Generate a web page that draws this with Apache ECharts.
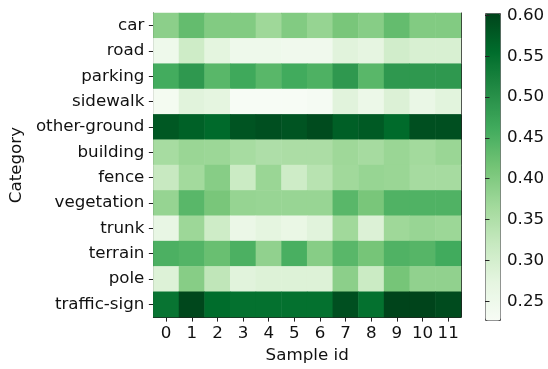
<!DOCTYPE html>
<html>
<head>
<meta charset="utf-8">
<script src="https://cdn.jsdelivr.net/npm/echarts@6/dist/echarts.min.js"></script>
<style>
  html, body { margin: 0; padding: 0; background: #fff; }
  #chart { width: 548px; height: 369px; }
</style>
</head>
<body>
<div id="chart"></div>
<script>
// Per-category scores for each sample
const categories = ['car', 'road', 'parking', 'sidewalk', 'other-ground', 'building',
  'fence', 'vegetation', 'trunk', 'terrain', 'pole', 'traffic-sign'];
const sampleIds = ['0', '1', '2', '3', '4', '5', '6', '7', '8', '9', '10', '11'];

const car          = [0.390, 0.430, 0.400, 0.400, 0.370, 0.400, 0.380, 0.410, 0.395, 0.430, 0.400, 0.400];
const road         = [0.250, 0.310, 0.275, 0.250, 0.250, 0.245, 0.245, 0.280, 0.272, 0.305, 0.295, 0.295];
const parking      = [0.460, 0.490, 0.440, 0.465, 0.440, 0.462, 0.450, 0.490, 0.440, 0.490, 0.490, 0.490];
const sidewalk     = [0.235, 0.280, 0.274, 0.228, 0.228, 0.228, 0.232, 0.280, 0.256, 0.288, 0.260, 0.278];
const otherGround  = [0.580, 0.570, 0.560, 0.585, 0.590, 0.585, 0.595, 0.572, 0.578, 0.558, 0.590, 0.590];
const building     = [0.360, 0.375, 0.373, 0.360, 0.352, 0.355, 0.355, 0.370, 0.362, 0.375, 0.366, 0.375];
const fence        = [0.320, 0.366, 0.395, 0.315, 0.375, 0.310, 0.340, 0.368, 0.378, 0.375, 0.362, 0.362];
const vegetation   = [0.380, 0.440, 0.410, 0.380, 0.377, 0.377, 0.377, 0.440, 0.410, 0.448, 0.448, 0.448];
const trunk        = [0.265, 0.372, 0.310, 0.258, 0.274, 0.262, 0.280, 0.368, 0.288, 0.370, 0.377, 0.373];
const terrain      = [0.452, 0.445, 0.425, 0.452, 0.385, 0.455, 0.395, 0.440, 0.413, 0.448, 0.443, 0.462];
const pole         = [0.287, 0.395, 0.330, 0.280, 0.287, 0.287, 0.287, 0.390, 0.315, 0.413, 0.385, 0.385];
const trafficSign  = [0.545, 0.600, 0.556, 0.550, 0.550, 0.550, 0.550, 0.590, 0.550, 0.603, 0.603, 0.595];

const rows = [car, road, parking, sidewalk, otherGround, building,
  fence, vegetation, trunk, terrain, pole, trafficSign];

const colorTicks = [0.25, 0.30, 0.35, 0.40, 0.45, 0.50, 0.55, 0.60];
const scaleMin = 0.227;
const scaleMax = 0.603;

// matplotlib "Greens" colormap stops
const greens = ['#f7fcf5', '#e5f5e0', '#c7e9c0', '#a1d99b', '#74c476',
  '#41ab5d', '#238b45', '#006d2c', '#00441b'];

const cells = [];
rows.forEach((vals, r) => {
  vals.forEach((v, c) => cells.push([c, r, v]));
});

const font = 'DejaVu Sans';
const fs = 16.7;
const ink = '#111';
const frame = { show: true, lineStyle: { color: '#222', width: 1 } };

const chart = echarts.init(document.getElementById('chart'), null, { renderer: 'canvas' });

chart.setOption({
  animation: false,
  backgroundColor: '#fff',
  grid: [
    { left: 153, top: 13, width: 308, height: 307 },
    { left: 485, top: 13, width: 15, height: 307 }
  ],
  xAxis: [
    {
      gridIndex: 0, type: 'category', data: sampleIds, position: 'bottom',
      axisLine: frame,
      axisTick: { show: true, alignWithLabel: true, interval: 0, length: 4.5, lineStyle: { color: '#222' } },
      axisLabel: { color: ink, fontFamily: font, fontSize: fs, margin: 8, interval: 0 },
      name: 'Sample id', nameLocation: 'middle', nameGap: 27,
      nameTextStyle: { color: ink, fontFamily: font, fontSize: fs },
      splitLine: { show: false }
    },
    {
      gridIndex: 0, type: 'category', data: sampleIds, position: 'top',
      axisLine: frame, axisTick: { show: false }, axisLabel: { show: false }
    },
    {
      gridIndex: 1, type: 'value', min: 0, max: 1, show: false
    }
  ],
  yAxis: [
    {
      gridIndex: 0, type: 'category', data: categories, inverse: true, position: 'left',
      axisLine: frame,
      axisTick: { show: true, alignWithLabel: true, interval: 0, length: 4.5, lineStyle: { color: '#222' } },
      axisLabel: { color: ink, fontFamily: font, fontSize: fs, margin: 9, interval: 0 },
      name: 'Category', nameLocation: 'middle', nameGap: 127, nameRotate: 90,
      nameTextStyle: { color: ink, fontFamily: font, fontSize: fs },
      splitLine: { show: false }
    },
    {
      gridIndex: 0, type: 'category', data: categories, inverse: true, position: 'right',
      axisLine: frame, axisTick: { show: false }, axisLabel: { show: false }
    },
    {
      gridIndex: 1, type: 'value', min: scaleMin, max: scaleMax, position: 'right', z: 20,
      axisLine: { show: false },
      axisTick: { show: true, length: 4.5, customValues: colorTicks, lineStyle: { color: '#222' } },
      axisLabel: {
        color: ink, fontFamily: font, fontSize: fs, margin: 7,
        customValues: colorTicks,
        formatter: v => Number(v).toFixed(2)
      },
      splitLine: { show: false }
    }
  ],
  visualMap: {
    type: 'continuous',
    min: scaleMin, max: scaleMax,
    seriesIndex: 0,
    calculable: false,
    hoverLink: false,
    orient: 'vertical',
    left: 485, top: 13,
    itemWidth: 15, itemHeight: 307,
    padding: 0,
    borderColor: '#555',
    borderWidth: 1,
    text: null,
    inRange: { color: greens }
  },
  series: [{
    type: 'heatmap',
    xAxisIndex: 0, yAxisIndex: 0,
    data: cells,
    itemStyle: { borderWidth: 0 },
    emphasis: { disabled: true },
    z: 1
  }]
});
</script>
</body>
</html>
